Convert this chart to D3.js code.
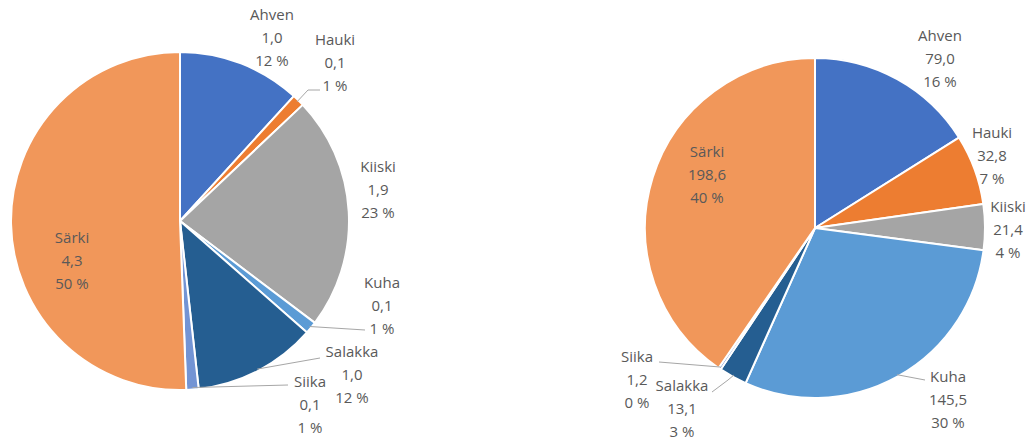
<!DOCTYPE html>
<html>
<head>
<meta charset="utf-8">
<script src="https://cdn.jsdelivr.net/npm/d3@7"></script>
<style>
  body { margin: 0; background: #fff; }
  text { font-family: "Open Sans", sans-serif; font-size: 15px; fill: #595959; }
</style>
</head>
<body>
<svg id="chart" width="1033" height="441"></svg>
<script>
// species, same order in both pies (clockwise from 12 o'clock)
const species = ["Ahven", "Hauki", "Kiiski", "Kuha", "Salakka", "Siika", "Särki"];
const colors = ["#4472C4", "#ED7D31", "#A5A5A5", "#5B9BD5", "#255E91", "#7394D4", "#F1975A"];

// left pie
const leftValues = [1.0, 0.1, 1.9, 0.1, 1.0, 0.1, 4.3];
const leftPct = ["12 %", "1 %", "23 %", "1 %", "12 %", "1 %", "50 %"];
// right pie
const rightValues = [79.0, 32.8, 21.4, 145.5, 13.1, 1.2, 198.6];
const rightPct = ["16 %", "7 %", "4 %", "30 %", "3 %", "0 %", "40 %"];

// label layout: offset from pie centre, and optional leader end point
const leftLayout = [
  { dx: 92, dy: -206 },
  { dx: 155, dy: -181, lead: [[128, -131], [140, -131]] },
  { dx: 198, dy: -54 },
  { dx: 202, dy: 62, lead: [[185, 109]] },
  { dx: 172, dy: 131, lead: [[140, 137]] },
  { dx: 130, dy: 161, lead: [[108, 164]] },
  { dx: -108, dy: 17 }
];
const rightLayout = [
  { dx: 125, dy: -192 },
  { dx: 177, dy: -95 },
  { dx: 193, dy: -21 },
  { dx: 133, dy: 149, lead: [[110, 152]] },
  { dx: -133, dy: 158, lead: [[-87, 152], [-103, 164]] },
  { dx: -178, dy: 129, lead: [[-156, 134]] },
  { dx: -108, dy: -76 }
];

const fmt = v => d3.format(".1f")(v).replace(".", ",");
const svg = d3.select("#chart");

function drawPie(cx, cy, r, values, pcts, layout) {
  const g = svg.append("g").attr("transform", "translate(" + cx + "," + cy + ")");
  const pie = d3.pie().sort(null).value(d => d)(values);
  const arc = d3.arc().innerRadius(0).outerRadius(r);

  g.selectAll("path.slice")
    .data(pie)
    .enter().append("path")
      .attr("class", "slice")
      .attr("d", arc)
      .attr("fill", (d, i) => colors[i])
      .attr("stroke", "#fff")
      .attr("stroke-width", 2)
      .attr("stroke-linejoin", "round");

  // leader lines for the small slices
  pie.forEach((d, i) => {
    const l = layout[i];
    if (!l.lead) return;
    const a = (d.startAngle + d.endAngle) / 2;
    const pts = [[Math.sin(a) * (r - 2), -Math.cos(a) * (r - 2)]].concat(l.lead);
    g.append("path")
      .attr("d", d3.line()(pts))
      .attr("fill", "none")
      .attr("stroke", "#A6A6A6")
      .attr("stroke-width", 1);
  });

  pie.forEach((d, i) => {
    const l = layout[i];
    const t = g.append("text")
      .attr("text-anchor", "middle")
      .attr("transform", "translate(" + l.dx + "," + l.dy + ")");
    [species[i], fmt(values[i]), pcts[i]].forEach((s, k) => {
      t.append("tspan").attr("x", 0).attr("y", k * 23).attr("dy", "0.35em").text(s);
    });
  });
}

drawPie(180, 221, 169, leftValues, leftPct, leftLayout);
drawPie(815, 228, 170, rightValues, rightPct, rightLayout);
</script>
</body>
</html>
